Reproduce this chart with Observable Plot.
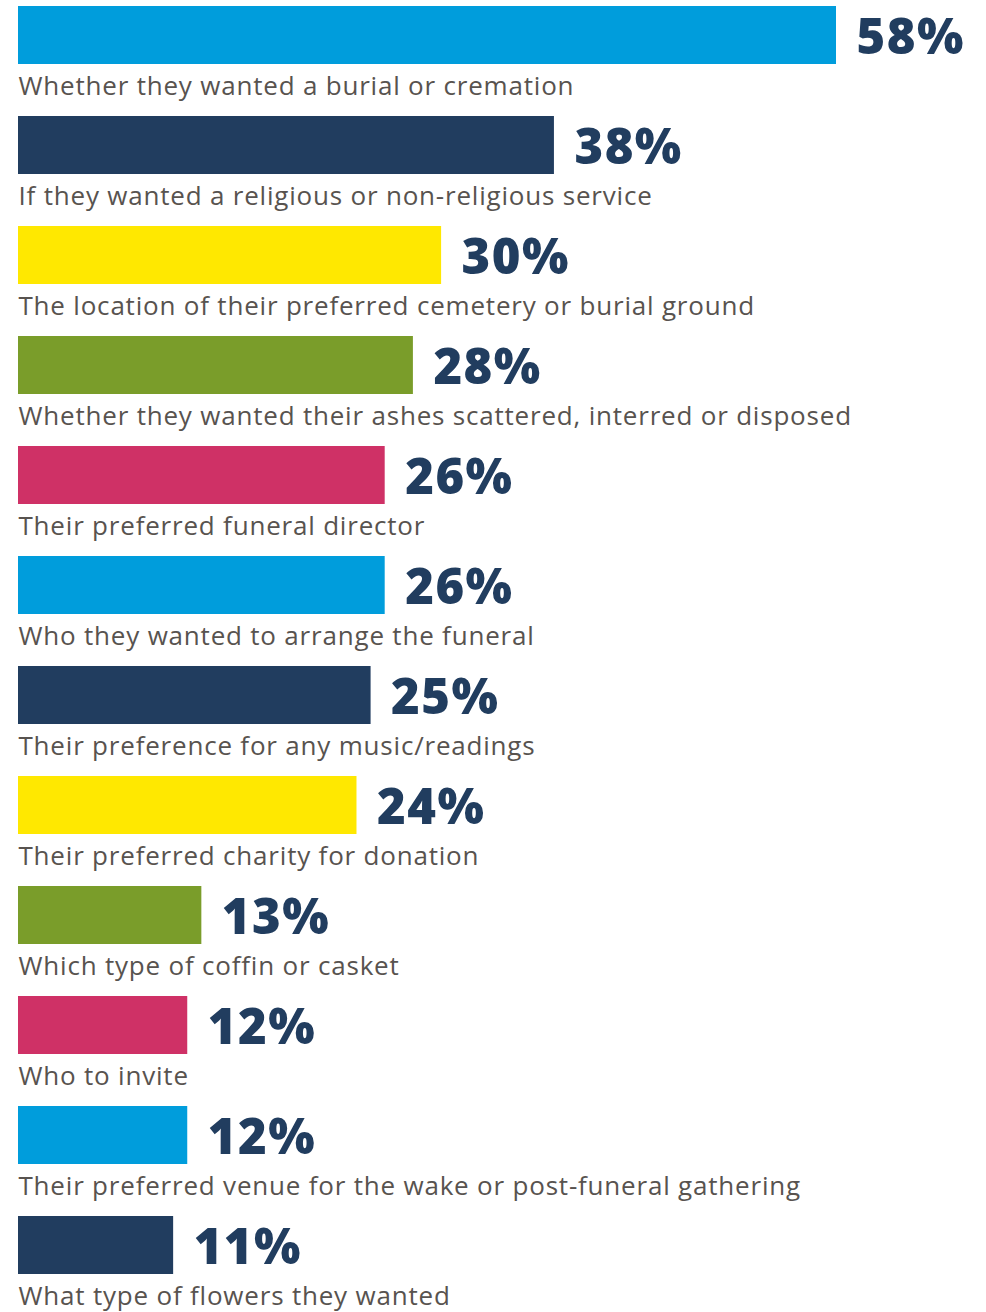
<!DOCTYPE html>
<html>
<head>
<meta charset="utf-8">
<script src="https://cdn.jsdelivr.net/npm/d3@7"></script>
<script src="https://cdn.jsdelivr.net/npm/@observablehq/plot@0.6"></script>
<style>
  html, body { margin: 0; padding: 0; background: #ffffff; }
  #chart svg { display: block; }
</style>
</head>
<body>
<div id="chart"></div>
<script>
const categories = [
  "Whether they wanted a burial or cremation",
  "If they wanted a religious or non-religious service",
  "The location of their preferred cemetery or burial ground",
  "Whether they wanted their ashes scattered, interred or disposed",
  "Their preferred funeral director",
  "Who they wanted to arrange the funeral",
  "Their preference for any music/readings",
  "Their preferred charity for donation",
  "Which type of coffin or casket",
  "Who to invite",
  "Their preferred venue for the wake or post-funeral gathering",
  "What type of flowers they wanted"
];
const values = [58, 38, 30, 28, 26, 26, 25, 24, 13, 12, 12, 11];
const palette = ["#009ddc", "#213d5f", "#ffe800", "#7a9d2a", "#cf3166"];

const data = categories.map((c, i) => ({
  category: c,
  value: values[i],
  label: values[i] + "%",
  colorKey: palette[i % palette.length]
}));

const chart = Plot.plot({
  width: 986,
  height: 1312,
  marginTop: 5,
  marginBottom: 37,
  marginLeft: 18,
  marginRight: 150,
  style: { background: "#ffffff", overflow: "visible" },
  x: { domain: [0, 58], axis: null },
  y: { type: "band", domain: categories, paddingInner: 0.474, paddingOuter: 0, axis: null },
  marks: [
    Plot.barX(data, { x: "value", y: "category", fill: "colorKey" }),
    Plot.text(data, {
      x: "value", y: "category", text: "label",
      textAnchor: "start", dx: 20, dy: 3,
      fontSize: 49, fontWeight: 800, fill: "#213d5f",
      fontFamily: "'Open Sans', sans-serif"
    }),
    Plot.text(data, {
      x: 0, y: "category", text: "category",
      textAnchor: "start", lineAnchor: "bottom", dy: 59,
      fontSize: 26, fill: "#58534f",
      fontFamily: "'Open Sans', sans-serif"
    })
  ]
});
const textGroups = chart.querySelectorAll('g[aria-label="text"]');
if (textGroups[0]) textGroups[0].setAttribute("letter-spacing", "1.5");
if (textGroups[1]) textGroups[1].setAttribute("letter-spacing", "0.8");
document.getElementById("chart").appendChild(chart);
</script>
</body>
</html>
